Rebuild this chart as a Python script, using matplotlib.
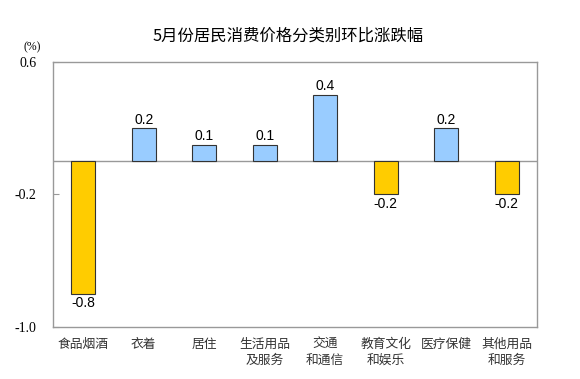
import matplotlib
matplotlib.use("Agg")
import matplotlib.pyplot as plt

plt.rcParams['font.family'] = ['Noto Sans CJK SC', 'DejaVu Sans']

categories = ["食品烟酒", "衣着", "居住", "生活用品\n及服务", "交通\n和通信",
              "教育文化\n和娱乐", "医疗保健", "其他用品\n和服务"]
values = [-0.8, 0.2, 0.1, 0.1, 0.4, -0.2, 0.2, -0.2]
yticks = [0.6, -0.2, -1.0]

fig = plt.figure(figsize=(5.8, 3.79), dpi=100)
ax = fig.add_axes([53 / 580, 1 - 327 / 379, 484 / 580, 265 / 379])

x = list(range(len(values)))
colors = ["#99CCFF" if v > 0 else "#FFCC00" for v in values]
ax.bar(x, values, width=0.4, color=colors, edgecolor="#333333", linewidth=0.8, zorder=3)
ax.axhline(0, color="#999999", linewidth=1.0, zorder=2)

for xi, v in zip(x, values):
    if v > 0:
        ax.text(xi, v + 0.01, "%.1f" % v, ha="center", va="bottom",
                fontsize=10, family="Liberation Sans")
    else:
        ax.text(xi, v - 0.015, "%.1f" % v, ha="center", va="top",
                fontsize=10, family="Liberation Sans")

ax.set_xlim(-0.5, len(values) - 0.5)
ax.set_ylim(-1.0, 0.6)
ax.set_yticks(yticks)
ax.set_yticklabels(["%.1f" % t for t in yticks], family="Liberation Serif", fontsize=10)
ax.set_xticks(x)
ax.set_xticklabels(categories, fontsize=9.2, color="#333333", linespacing=1.3)
ax.tick_params(axis="x", length=0, pad=8)
ax.tick_params(axis="y", length=4, color="#999999", pad=12, direction="in")

for s in ax.spines.values():
    s.set_color("#999999")
    s.set_linewidth(1.0)

fig.text(288 / 580, 1 - 36 / 379, "5月份居民消费价格分类别环比涨跌幅",
         ha="center", va="center", fontsize=11.8)
fig.text(32 / 580, 1 - 47 / 379, "(%)", ha="center", va="center",
         family="Liberation Serif", fontsize=8.5)

fig.savefig("out.png", dpi=100)
